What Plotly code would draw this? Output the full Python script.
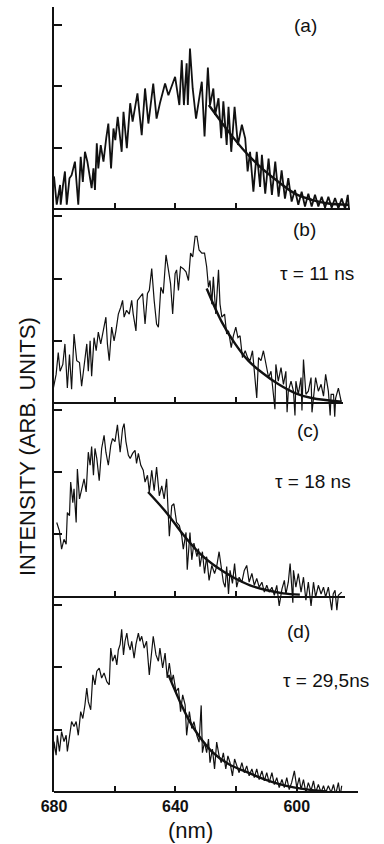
import plotly.graph_objects as go

# ---------------- data (wavelength nm, intensity arb. units) ----------------
spec_a = [(680.0,0.53),(679.1,0.07),(678.0,0.39),(677.8,0.07),(677.1,0.36),(676.4,0.61),(675.8,0.07),(674.9,0.50),
          (674.2,0.55),(673.1,0.77),(672.0,0.07),(671.2,0.85),(670.5,0.44),(669.8,0.93),(669.0,0.77),(667.6,0.34),
          (667.0,0.66),(666.5,0.31),(665.9,1.07),(665.4,0.66),(664.6,1.04),(663.7,0.77),(662.8,1.15),(662.1,1.39),
          (661.2,0.66),(660.4,1.31),(659.8,1.12),(659.0,1.50),(657.7,0.93),(657.1,1.58),(656.0,0.99),(654.9,1.72),
          (654.1,1.42),(652.5,1.88),(651.1,1.20),(650.0,1.96),(648.9,1.39),(647.3,2.04),(646.2,1.47),(645.1,1.72),
          (643.4,2.04),(642.3,1.85),(640.1,2.15),(638.7,1.69),(637.9,2.42),(637.2,1.69),(636.3,2.37),(635.9,1.69),
          (635.2,2.61),(634.3,1.96),(633.2,1.47),(632.1,1.83),(631.3,2.07),(630.4,1.18),(629.3,2.30),(628.6,1.69),
          (627.5,1.96),(626.9,1.53),(625.8,1.80),(624.9,1.15),(624.2,1.75),(623.1,1.04),(622.5,1.66),(621.6,0.93),
          (620.5,1.66),(619.4,1.04),(618.1,1.37),(617.0,1.15),(616.2,0.61),(615.4,0.93),(614.3,0.28),(613.2,0.93),
          (612.1,0.36),(611.5,0.88),(610.4,0.25),(609.3,0.82),(608.2,0.23),(607.1,0.77),(606.0,0.20),(605.0,0.63),
          (603.9,0.17),(602.8,0.50),(601.7,0.12),(600.6,0.31),(599.5,0.07),(598.4,0.28),(597.3,0.04),(596.2,0.25),
          (595.1,0.04),(594.0,0.23),(592.9,0.04),(591.8,0.20),(590.7,0.02),(589.6,0.20),(588.5,0.02),(587.4,0.18),
          (586.3,0.01),(585.2,0.17),(584.1,0.00),(583.2,0.23),(582.8,0.00)]

spec_b = [(680.2,0.24),(679.3,0.46),(678.6,0.81),(678.0,0.51),(677.1,0.62),(676.4,0.95),(675.6,0.24),(674.9,0.78),
          (674.2,0.22),(673.4,1.11),(672.5,0.68),(671.6,0.65),(670.9,0.27),(670.1,0.62),(669.2,0.95),(668.7,0.51),
          (668.1,1.00),(667.6,0.43),(666.8,1.05),(666.1,0.84),(665.4,1.14),(664.6,0.95),(663.7,1.16),(662.9,1.38),
          (662.4,0.95),(661.8,0.68),(661.0,1.22),(660.2,1.00),(659.6,1.16),(658.8,1.43),(658.0,1.54),(657.4,1.65),
          (656.9,1.38),(656.1,1.49),(655.2,1.43),(654.4,1.65),(653.9,1.43),(653.0,1.16),(652.5,1.65),(651.7,1.70),
          (650.8,1.76),(650.0,1.27),(649.2,1.76),(648.6,1.81),(647.8,2.16),(647.0,1.65),(646.2,1.27),(645.6,1.22),
          (644.8,1.86),(644.0,1.76),(643.1,2.38),(642.3,2.14),(641.6,1.92),(640.9,1.43),(640.1,2.08),(639.6,2.14),
          (639.0,1.81),(638.3,2.19),(637.4,2.16),(636.5,2.11),(635.7,1.97),(635.0,2.41),(634.3,2.35),(633.5,2.68),
          (632.9,2.68),(632.2,2.46),(631.3,2.41),(630.4,2.41),(629.7,2.19),(629.1,1.86),(628.6,1.97),(628.0,1.59),
          (627.5,2.03),(626.7,1.43),(625.8,2.14),(625.3,1.59),(624.7,1.38),(623.8,1.43),(623.1,1.11),(622.5,1.16),
          (621.6,0.89),(620.9,1.08),(620.1,1.22),(619.4,1.05),(618.7,1.08),(617.9,0.73),(617.0,0.84),(616.2,0.73),
          (615.4,0.68),(614.6,0.84),(613.9,0.51),(613.2,0.08),(612.6,0.73),(611.8,0.68),(611.0,0.84),(610.2,0.62),
          (609.3,0.41),(608.5,0.51),(607.7,0.19),(607.2,-0.10),(606.9,0.62),(606.1,0.35),(605.2,0.57),(604.4,0.30),
          (603.6,0.51),(603.2,-0.15),(602.8,0.19),(601.9,0.35),(601.1,0.19),(600.6,-0.20),(600.3,0.35),(599.5,0.14),
          (598.6,0.41),(598.3,-0.12),(597.8,0.70),(597.0,0.14),(596.2,0.19),(595.3,0.41),(595.0,-0.15),(594.5,0.11),
          (593.8,0.41),(592.9,0.19),(592.0,0.30),(591.2,0.11),(590.5,0.46),(589.6,0.19),(589.0,-0.20),(588.7,0.14),
          (587.9,0.14),(587.5,-0.22),(587.2,0.08),(586.3,0.24),(585.4,0.03)]

spec_c = [(679.1,1.19),(678.2,1.05),(677.5,0.76),(676.7,0.92),(676.0,0.84),(675.6,1.35),(674.9,1.30),(674.5,1.84),
          (673.8,1.51),(673.4,1.73),(672.7,1.19),(672.3,2.05),(671.6,1.57),(670.9,1.73),(670.1,1.89),(669.4,1.68),
          (668.7,2.32),(668.1,2.11),(667.6,2.41),(667.0,1.95),(666.5,2.38),(665.9,2.22),(665.1,1.86),(664.3,2.38),
          (663.5,2.59),(662.9,2.32),(662.1,2.11),(661.3,2.43),(660.7,2.54),(659.9,2.49),(659.1,2.76),(658.2,2.32),
          (657.4,2.70),(656.9,2.78),(656.3,2.49),(655.5,2.27),(654.9,2.22),(654.1,2.30),(653.3,2.35),(652.8,2.14),
          (652.2,2.30),(651.4,2.11),(650.6,2.03),(650.0,1.84),(649.2,1.95),(648.6,1.68),(647.8,2.03),(647.0,1.70),
          (646.2,2.08),(645.3,1.62),(644.5,1.78),(643.7,1.57),(642.9,1.89),(642.0,0.97),(641.2,1.46),(640.5,1.49),
          (639.6,1.19),(638.7,1.14),(637.9,0.97),(637.4,0.76),(636.5,1.03),(636.1,0.43),(635.2,1.03),(634.6,0.59),
          (633.9,0.86),(632.9,0.64),(632.4,0.77),(631.9,0.48),(631.1,0.72),(630.4,0.37),(629.7,0.64),(628.9,0.26),
          (628.0,0.50),(627.1,0.37),(626.4,0.48),(625.6,0.72),(624.9,0.48),(624.2,0.23),(623.6,0.15),(623.1,0.48),
          (622.5,0.04),(622.0,0.42),(621.2,0.21),(620.5,0.53),(619.8,0.15),(619.0,0.31),(618.1,0.23),(617.3,0.42),
          (616.5,0.50),(615.7,0.23),(614.8,0.37),(614.0,0.18),(613.2,0.29),(612.4,0.15),(611.5,0.23),(610.7,0.07),
          (609.9,0.18),(609.1,0.07),(608.2,0.15),(607.4,0.02),(606.6,0.18),(605.8,-0.15),(604.9,0.12),(604.1,0.26),
          (603.6,0.04),(602.8,0.23),(602.2,0.53),(601.7,0.21),(601.3,-0.10),(601.1,0.42),(600.3,0.15),(599.5,0.37),
          (598.6,0.07),(597.8,0.31),(597.0,-0.06),(596.2,0.23),(595.3,-0.15),(594.5,0.23),(593.8,-0.01),(592.9,0.18),
          (592.0,0.04),(591.2,0.15),(590.5,-0.01),(589.6,0.15),(588.5,-0.22),(588.0,0.04),(587.4,0.10),(586.8,-0.22),
          (586.3,0.02),(585.2,0.07)]

spec_d = [(680.4,0.38),(680.0,0.81),(679.3,0.59),(678.9,0.91),(678.2,0.65),(677.5,0.97),(676.7,0.81),(676.0,0.91),
          (675.6,0.65),(674.9,0.91),(674.2,1.13),(673.4,1.05),(672.7,1.13),(672.0,0.91),(671.2,1.29),(670.5,1.18),
          (669.8,1.40),(669.2,1.67),(668.7,1.45),(667.9,1.32),(667.2,1.88),(666.5,1.72),(665.9,1.94),(665.1,1.99),
          (664.3,1.83),(663.5,1.91),(662.6,1.77),(661.8,1.72),(661.3,2.31),(660.7,2.10),(659.9,2.20),(659.3,2.04),
          (658.8,2.28),(658.2,2.37),(657.7,2.61),(657.1,2.20),(656.6,2.42),(656.0,2.55),(655.5,2.37),(654.9,2.28),
          (654.4,2.42),(653.6,2.15),(653.0,2.37),(652.2,2.55),(651.7,2.42),(651.1,2.50),(650.3,2.31),(649.5,2.42),
          (648.6,1.88),(647.8,2.26),(647.3,2.50),(646.4,2.20),(645.6,2.10),(645.1,2.31),(644.2,1.99),(643.4,2.23),
          (642.7,1.83),(642.0,2.07),(641.2,1.77),(640.7,1.88),(639.8,1.61),(639.0,1.67),(638.3,1.29),(637.6,1.56),
          (636.8,1.40),(636.3,0.91),(635.4,1.29),(634.6,1.02),(633.9,1.13),(632.9,0.90),(632.2,0.80),(631.5,1.39),
          (631.1,0.63),(630.4,0.80),(629.7,0.63),(629.1,0.85),(628.6,0.47),(627.8,0.69),(627.1,0.37),(626.4,0.80),
          (625.6,0.58),(624.9,0.47),(624.2,0.63),(623.4,0.37),(622.7,0.58),(622.0,0.47),(621.2,0.26),(620.5,0.53),
          (619.8,0.42),(619.0,0.31),(618.1,0.47),(617.3,0.31),(616.5,0.42),(615.7,0.26),(614.8,0.37),(614.0,0.23),
          (613.2,0.37),(612.4,0.20),(611.5,0.34),(610.7,0.18),(609.9,0.31),(609.1,0.15),(608.2,0.31),(607.4,0.12),
          (606.6,0.23),(605.8,0.07),(604.9,0.20),(604.1,0.07),(603.3,0.23),(602.5,0.04),(601.7,0.15),(600.8,0.34),
          (600.0,0.07),(599.2,0.23),(598.6,0.04),(597.8,0.20),(597.0,-0.01),(596.2,0.15),(595.3,0.02),(594.5,0.18),
          (593.8,-0.01),(592.9,0.12),(592.0,-0.01),(591.2,0.10),(590.5,-0.01),(589.6,0.10),(588.7,-0.01),(587.9,0.12),
          (587.2,-0.04),(586.3,0.15),(585.7,-0.06),(585.2,0.10)]

fit_a = [(629.0,1.69),(622.5,1.26),(617.0,0.93),(611.5,0.66),(606.0,0.44),(600.6,0.25),(595.1,0.15),(589.6,0.09),(583.0,0.07)]
fit_b = [(629.7,1.84),(624.7,1.30),(620.3,0.95),(616.0,0.68),(611.5,0.49),(606.0,0.30),(600.6,0.16),(595.1,0.08),(585.2,0.02)]
fit_c = [(649.0,1.68),(642.8,1.34),(637.5,1.00),(631.9,0.69),(626.3,0.47),(621.0,0.31),(615.4,0.18),(609.8,0.10),(604.5,0.05),(599.0,0.03)]
fit_d = [(642.3,1.88),(638.5,1.45),(635.5,1.15),(632.4,0.91),(628.0,0.65),(622.5,0.45),(617.0,0.33),(611.5,0.22),(606.0,0.13),(600.6,0.07),(595.0,0.03),(590.0,0.01)]

panel_labels = ["(a)", "(b)", "(c)", "(d)"]
tau_labels = ["", "\u03c4 = 11 ns", "\u03c4 = 18 ns", "\u03c4 = 29,5ns"]
y_tick_vals = [1, 2, 3]
x_tick_vals = [680, 660, 640, 620, 600]
x_tick_text = ["680", "", "640", "", "600"]
y_title = "INTENSITY (ARB. UNITS)"
x_title = "(nm)"

spectra = [spec_a, spec_b, spec_c, spec_d]
fits = [fit_a, fit_b, fit_c, fit_d]

# ---------------- layout geometry (pixels) ----------------
W, H = 384, 844
X0 = 54
PX_PER_NM = 60.7 / 20.0
# zero-line px, px per unit, top px, y min, right end px
geom = [(209.0, 61.5, 7.0, -0.10, 350.0),
        (403.0, 62.2, 209.0, -0.26, 343.0),
        (596.5, 62.2, 403.0, -0.26, 345.0),
        (792.0, 62.3, 596.5, 0.0, 358.0)]
label_pos = [(305, 25), (304, 229), (308, 430), (298, 631)]
tau_pos = [(0, 0), (317, 273), (313, 481), (326, 680)]

INK = "#111111"
FONT = "Liberation Sans, Arial, sans-serif"

fig = go.Figure()
layout = dict(width=W, height=H, margin=dict(l=0, r=0, t=0, b=0, autoexpand=False),
              paper_bgcolor="white", plot_bgcolor="rgba(0,0,0,0)", hovermode=False,
              showlegend=False, font=dict(family=FONT, color=INK))
annotations = []

for k in range(4):
    sfx = "" if k == 0 else str(k + 1)
    zero, unit, top, ymin, xend = geom[k]
    ymax = (zero - top) / unit
    bottom = zero - ymin * unit
    xr_end = 680 - (xend - X0) / PX_PER_NM

    wl, inten = zip(*spectra[k])
    fig.add_trace(go.Scatter(x=wl, y=inten, mode="lines", xaxis="x" + sfx, yaxis="y" + sfx,
                             line=dict(color=INK, width=1.8 if k == 0 else 1.2)))
    fwl, fval = zip(*fits[k])
    fig.add_trace(go.Scatter(x=fwl, y=fval, mode="lines", xaxis="x" + sfx, yaxis="y" + sfx,
                             line=dict(color=INK, width=2.4, shape="spline")))

    last = (k == 3)
    layout["xaxis" + sfx] = dict(
        domain=[X0 / W, xend / W], range=[680, xr_end],
        anchor="free", position=1 - zero / H,
        showline=True, linecolor=INK, linewidth=2, showgrid=False, zeroline=False,
        tickmode="array",
        tickvals=x_tick_vals if last else x_tick_vals[1:4],
        ticktext=["<b>%s</b>" % t if t else "" for t in x_tick_text] if last else ["", "", ""],
        ticks="inside", ticklen=5, tickwidth=2, tickcolor=INK,
        showticklabels=last, tickfont=dict(size=16, family=FONT, color=INK),
    )
    layout["yaxis" + sfx] = dict(
        domain=[1 - bottom / H, 1 - top / H], range=[ymin, ymax],
        anchor="x" + sfx,
        showline=True, linecolor=INK, linewidth=2, showgrid=False, zeroline=False,
        tickmode="array", tickvals=y_tick_vals, ticks="inside", ticklen=8, tickwidth=2,
        tickcolor=INK, showticklabels=False,
    )
    lx, ly = label_pos[k]
    annotations.append(dict(text=panel_labels[k], x=lx / W, y=1 - ly / H, xref="paper", yref="paper",
                            showarrow=False, xanchor="center", yanchor="middle",
                            font=dict(size=19, family=FONT, color=INK)))
    if tau_labels[k]:
        tx, ty = tau_pos[k]
        annotations.append(dict(text=tau_labels[k], x=tx / W, y=1 - ty / H, xref="paper", yref="paper",
                                showarrow=False, xanchor="center", yanchor="middle",
                                font=dict(size=19, family=FONT, color=INK)))

annotations.append(dict(text=y_title, x=27 / W, y=1 - 447 / H, xref="paper", yref="paper",
                        showarrow=False, textangle=-90, xanchor="center", yanchor="middle",
                        font=dict(size=22, family=FONT, color=INK)))
annotations.append(dict(text=x_title, x=190 / W, y=1 - 830 / H, xref="paper", yref="paper",
                        showarrow=False, xanchor="center", yanchor="middle",
                        font=dict(size=22, family=FONT, color=INK)))
layout["annotations"] = annotations
fig.update_layout(**layout)
fig.write_html("out.html", config={"displayModeBar": False, "staticPlot": True},
               post_script="document.body.style.margin='0px';")
